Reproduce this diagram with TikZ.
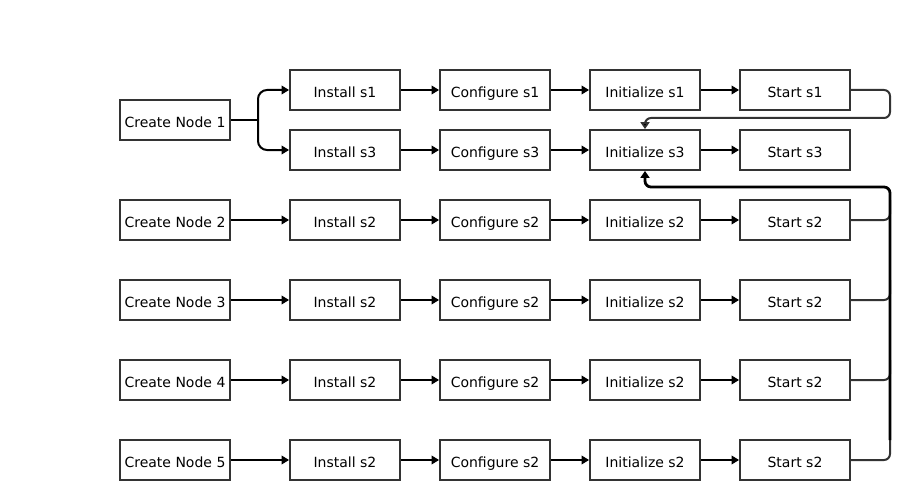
\documentclass[tikz,border=0pt]{standalone}
\usepackage{fontspec}
\setmainfont{DejaVu Sans}
\usetikzlibrary{arrows.meta}
\definecolor{boxline}{HTML}{333333}
\definecolor{conn}{HTML}{333333}
\tikzset{
  stepbox/.style={draw=boxline, line width=1.8pt, fill=white, minimum width=110pt, minimum height=40pt, inner sep=0pt, text height=15.4pt, text depth=0pt, font=\fontsize{14}{16}\selectfont},
  flow/.style={line width=2pt, -{Triangle[length=7.5pt,width=8.5pt]}},
  link/.style={line width=2pt, draw=conn, rounded corners=6pt},
  trunk/.style={line width=2.8pt, rounded corners=6pt, -{Triangle[length=7pt,width=9pt]}}
}
\begin{document}
\begin{tikzpicture}[x=1pt,y=-1pt]
\useasboundingbox (0,0) rectangle (915,500);
% row 1 / 2
\node[stepbox] (c1) at (175,120) {Create Node 1};
\node[stepbox] (i1) at (345,90) {Install s1};
\node[stepbox] (g1) at (495,90) {Configure s1};
\node[stepbox] (n1) at (645,90) {Initialize s1};
\node[stepbox] (s1) at (795,90) {Start s1};
\node[stepbox] (i3) at (345,150) {Install s3};
\node[stepbox] (g3) at (495,150) {Configure s3};
\node[stepbox] (n3) at (645,150) {Initialize s3};
\node[stepbox] (s3) at (795,150) {Start s3};
\foreach \r/\y in {2/220,3/300,4/380,5/460}{
  \node[stepbox] (c\r) at (175,\y) {Create Node \r};
  \node[stepbox] (ia\r) at (345,\y) {Install s2};
  \node[stepbox] (ga\r) at (495,\y) {Configure s2};
  \node[stepbox] (na\r) at (645,\y) {Initialize s2};
  \node[stepbox] (sa\r) at (795,\y) {Start s2};
  \draw[flow] (c\r) -- (ia\r);
  \draw[flow] (ia\r) -- (ga\r);
  \draw[flow] (ga\r) -- (na\r);
  \draw[flow] (na\r) -- (sa\r);
}
\coordinate (split) at (258,120);
\draw[line width=2pt] (c1) -- (split);
\draw[flow, rounded corners=9pt] (split) |- (i1);
\draw[flow, rounded corners=9pt] (split) |- (i3);
\draw[flow] (i1) -- (g1);
\draw[flow] (g1) -- (n1);
\draw[flow] (n1) -- (s1);
\draw[flow] (i3) -- (g3);
\draw[flow] (g3) -- (n3);
\draw[flow] (n3) -- (s3);
% start s1 -> initialize s3
\draw[line width=2pt, draw=conn, rounded corners=6pt, -{Triangle[length=7pt,width=9pt,fill=black]}] (s1.east) -- (890,90) -- (890,118) -- (645,118) -- (n3.north);
% start s2 rows -> initialize s3
\draw[link] (sa3.east) -- (890,300) -- (890,280);
\draw[link] (sa4.east) -- (890,380) -- (890,360);
\draw[link] (sa5.east) -- (890,460) -- (890,440);
\draw[link] (sa2.east) -- (890,220) -- (890,200);
\draw[trunk] (890,440) -- (890,187) -- (645,187) -- (n3.south);
\end{tikzpicture}
\end{document}
